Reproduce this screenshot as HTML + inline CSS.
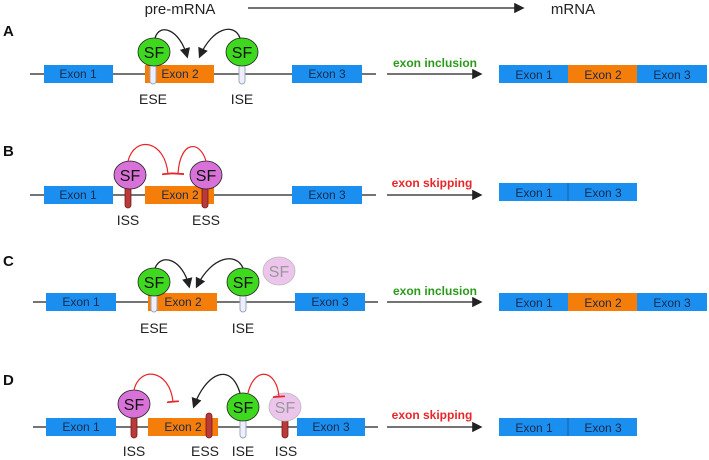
<!DOCTYPE html><html><head><style>body{margin:0;background:#fff}svg{display:block}text{font-family:"Liberation Sans",sans-serif}</style></head><body>
<svg width="709" height="460" viewBox="0 0 709 460" xmlns="http://www.w3.org/2000/svg">
<defs>
<marker id="ah" markerWidth="8" markerHeight="8" refX="6" refY="4" orient="auto"><path d="M0,0 L8,4 L0,8z" fill="#222"/></marker>
<marker id="tb" markerWidth="2" markerHeight="10" refX="1" refY="5" orient="auto"><rect x="0" y="0" width="1.5" height="10" fill="#e8262a"/></marker>
<style>.ex{fill:#1a2a4a;font-size:12px}.sf{fill:#111}</style>
</defs>
<text x="180" y="14" font-size="15" text-anchor="middle" fill="#222">pre-mRNA</text>
<line x1="248" y1="8" x2="522" y2="8" stroke="#222" stroke-width="1.3" marker-end="url(#ah)"/>
<text x="573" y="14" font-size="15" text-anchor="middle" fill="#222">mRNA</text>
<g font-weight="bold" font-size="15" fill="#111"><text x="3" y="36">A</text><text x="3" y="156">B</text><text x="3" y="266">C</text><text x="3" y="385">D</text></g>
<g font-size="11" fill="#222" text-anchor="middle">
<!-- A -->
<line x1="30" y1="74" x2="376" y2="74" stroke="#222" stroke-width="1.2"/>
<rect x="44" y="65" width="69" height="18" fill="#1a8ff0"/><text class="ex" x="78" y="78">Exon 1</text>
<rect x="145" y="65" width="69" height="18" fill="#f57d0a"/><text class="ex" x="180" y="78">Exon 2</text>
<rect x="292" y="65" width="70" height="18" fill="#1a8ff0"/><text class="ex" x="327" y="78">Exon 3</text>
<rect x="150" y="64" width="6" height="20" rx="3" fill="#eef" stroke="#9ab" stroke-width="1"/>
<rect x="239" y="64" width="6" height="20" rx="3" fill="#eef" stroke="#9ab" stroke-width="1"/>
<ellipse cx="154" cy="52" rx="16" ry="14" fill="#3ed81e" stroke="#222" stroke-width=".8"/><text class="sf" x="154" y="58" font-size="16">SF</text>
<ellipse cx="242" cy="52" rx="16" ry="14" fill="#3ed81e" stroke="#222" stroke-width=".8"/><text class="sf" x="242" y="58" font-size="16">SF</text>
<path d="M155,38 C160,22 180,30 187,56" fill="none" stroke="#222" stroke-width="1.3" marker-end="url(#ah)"/>
<path d="M240,38 C234,22 212,28 200,56" fill="none" stroke="#222" stroke-width="1.3" marker-end="url(#ah)"/>
<text x="153" y="104" font-size="14">ESE</text><text x="242" y="104" font-size="14">ISE</text>
<line x1="387" y1="74" x2="480" y2="74" stroke="#222" stroke-width="1.3" marker-end="url(#ah)"/>
<text x="435" y="67" font-size="12" font-weight="bold" fill="#2a9a1a">exon inclusion</text>
<rect x="499" y="65" width="69" height="18" fill="#1a8ff0"/><rect x="568" y="65" width="69" height="18" fill="#f57d0a"/><rect x="637" y="65" width="70" height="18" fill="#1a8ff0"/>
<text class="ex" x="534" y="79">Exon 1</text><text class="ex" x="603" y="79">Exon 2</text><text class="ex" x="672" y="79">Exon 3</text>
<!-- B -->
<line x1="30" y1="195" x2="376" y2="195" stroke="#222" stroke-width="1.2"/>
<rect x="44" y="186" width="69" height="18" fill="#1a8ff0"/><text class="ex" x="78" y="199">Exon 1</text>
<rect x="145" y="186" width="69" height="18" fill="#f57d0a"/><text class="ex" x="180" y="199">Exon 2</text>
<rect x="292" y="186" width="70" height="18" fill="#1a8ff0"/><text class="ex" x="327" y="199">Exon 3</text>
<rect x="125" y="185" width="6" height="23" rx="3" fill="#b83a3a" stroke="#7a1a1a" stroke-width=".8"/>
<rect x="202" y="185" width="6" height="23" rx="3" fill="#b83a3a" stroke="#7a1a1a" stroke-width=".8"/>
<ellipse cx="130" cy="175" rx="16" ry="14" fill="#d872d8" stroke="#222" stroke-width=".8"/><text class="sf" x="130" y="181" font-size="16">SF</text>
<ellipse cx="206" cy="175" rx="16" ry="14" fill="#d872d8" stroke="#222" stroke-width=".8"/><text class="sf" x="206" y="181" font-size="16">SF</text>
<path d="M128,161 C135,135 165,140 168,174" fill="none" stroke="#e8262a" stroke-width="1.2" marker-end="url(#tb)"/>
<path d="M206,161 C200,140 180,140 178,174" fill="none" stroke="#e8262a" stroke-width="1.2" marker-end="url(#tb)"/>
<text x="128" y="225" font-size="14">ISS</text><text x="206" y="225" font-size="14">ESS</text>
<line x1="387" y1="195" x2="480" y2="195" stroke="#222" stroke-width="1.3" marker-end="url(#ah)"/>
<text x="432" y="187" font-size="12" font-weight="bold" fill="#e8262a">exon skipping</text>
<rect x="499" y="183" width="69" height="18" fill="#1a8ff0"/><rect x="568" y="183" width="69" height="18" fill="#1a8ff0"/><line x1="568" y1="183" x2="568" y2="201" stroke="#1460a0"/>
<text class="ex" x="534" y="197">Exon 1</text><text class="ex" x="603" y="197">Exon 3</text>
<!-- C -->
<line x1="33" y1="302" x2="378" y2="302" stroke="#222" stroke-width="1.2"/>
<rect x="46" y="293" width="70" height="18" fill="#1a8ff0"/><text class="ex" x="81" y="306">Exon 1</text>
<rect x="148" y="293" width="69" height="18" fill="#f57d0a"/><text class="ex" x="183" y="306">Exon 2</text>
<rect x="295" y="293" width="70" height="18" fill="#1a8ff0"/><text class="ex" x="330" y="306">Exon 3</text>
<rect x="151" y="292" width="6" height="20" rx="3" fill="#eef" stroke="#9ab"/>
<rect x="240" y="292" width="6" height="20" rx="3" fill="#eef" stroke="#9ab"/>
<ellipse cx="154" cy="282" rx="16" ry="14" fill="#3ed81e" stroke="#222" stroke-width=".8"/><text class="sf" x="154" y="288" font-size="16">SF</text>
<ellipse cx="243" cy="282" rx="16" ry="14" fill="#3ed81e" stroke="#222" stroke-width=".8"/><text class="sf" x="243" y="288" font-size="16">SF</text>
<ellipse cx="279" cy="271" rx="16" ry="14" fill="#ecc4ec" stroke="#bbb" stroke-width=".8"/><text x="279" y="277" font-size="16" fill="#999">SF</text>
<path d="M155,268 C162,252 183,260 189,286" fill="none" stroke="#222" stroke-width="1.3" marker-end="url(#ah)"/>
<path d="M243,268 C236,252 212,256 197,286" fill="none" stroke="#222" stroke-width="1.3" marker-end="url(#ah)"/>
<text x="154" y="333" font-size="14">ESE</text><text x="243" y="333" font-size="14">ISE</text>
<line x1="387" y1="302" x2="480" y2="302" stroke="#222" stroke-width="1.3" marker-end="url(#ah)"/>
<text x="435" y="295" font-size="12" font-weight="bold" fill="#2a9a1a">exon inclusion</text>
<rect x="499" y="293" width="69" height="18" fill="#1a8ff0"/><rect x="568" y="293" width="69" height="18" fill="#f57d0a"/><rect x="637" y="293" width="70" height="18" fill="#1a8ff0"/>
<text class="ex" x="534" y="307">Exon 1</text><text class="ex" x="603" y="307">Exon 2</text><text class="ex" x="672" y="307">Exon 3</text>
<!-- D -->
<line x1="33" y1="427" x2="378" y2="427" stroke="#222" stroke-width="1.2"/>
<rect x="46" y="418" width="70" height="18" fill="#1a8ff0"/><text class="ex" x="81" y="431">Exon 1</text>
<rect x="148" y="418" width="70" height="18" fill="#f57d0a"/><text class="ex" x="183" y="431">Exon 2</text>
<rect x="297" y="418" width="68" height="18" fill="#1a8ff0"/><text class="ex" x="331" y="431">Exon 3</text>
<rect x="131" y="414" width="6" height="24" rx="3" fill="#b83a3a" stroke="#7a1a1a" stroke-width=".8"/>
<rect x="206" y="413" width="6" height="25" rx="3" fill="#b83a3a" stroke="#7a1a1a" stroke-width=".8"/>
<rect x="240" y="417" width="6" height="21" rx="3" fill="#eef" stroke="#9ab"/>
<rect x="282" y="415" width="6" height="23" rx="3" fill="#b83a3a" stroke="#7a1a1a" stroke-width=".8"/>
<ellipse cx="134" cy="404" rx="16" ry="14" fill="#d872d8" stroke="#222" stroke-width=".8"/><text class="sf" x="134" y="410" font-size="16">SF</text>
<ellipse cx="243" cy="407" rx="16" ry="14" fill="#3ed81e" stroke="#222" stroke-width=".8"/><text class="sf" x="243" y="413" font-size="16">SF</text>
<ellipse cx="285" cy="407" rx="16" ry="14" fill="#ecc4ec" stroke="#bbb" stroke-width=".8"/><text x="285" y="413" font-size="16" fill="#999">SF</text>
<path d="M134,390 C140,365 170,370 173,402" fill="none" stroke="#e8262a" stroke-width="1.2" marker-end="url(#tb)"/>
<path d="M240,393 C230,360 205,375 194,406" fill="none" stroke="#222" stroke-width="1.3" marker-end="url(#ah)"/>
<path d="M248,393 C255,365 277,370 279,397" fill="none" stroke="#e8262a" stroke-width="1.2" marker-end="url(#tb)"/>
<text x="134" y="456" font-size="14">ISS</text><text x="205" y="456" font-size="14">ESS</text><text x="243" y="456" font-size="14">ISE</text><text x="286" y="456" font-size="14">ISS</text>
<line x1="387" y1="427" x2="480" y2="427" stroke="#222" stroke-width="1.3" marker-end="url(#ah)"/>
<text x="432" y="419" font-size="12" font-weight="bold" fill="#e8262a">exon skipping</text>
<rect x="499" y="418" width="69" height="18" fill="#1a8ff0"/><rect x="568" y="418" width="69" height="18" fill="#1a8ff0"/><line x1="568" y1="418" x2="568" y2="436" stroke="#1460a0"/>
<text class="ex" x="534" y="432">Exon 1</text><text class="ex" x="603" y="432">Exon 3</text>
</g>
</svg>
</body></html>
